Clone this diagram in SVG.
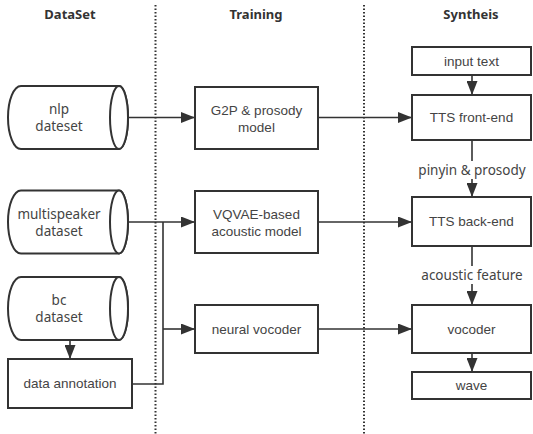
<svg xmlns="http://www.w3.org/2000/svg" width="533" height="434" viewBox="0 0 533 434">
  <style>
    .box { fill: #ffffff; stroke: #333333; stroke-width: 2; }
    .cyl { fill: #ffffff; stroke: #333333; stroke-width: 2; }
    .lane { stroke: #333333; stroke-width: 2; stroke-dasharray: 1.5 2; fill: none; }
    .edge { stroke: #333333; stroke-width: 1.6; fill: none; }
    .hdr { font-family: "Noto Sans", "Open Sans", sans-serif; font-size: 13px; font-weight: bold; fill: #333333; text-anchor: middle; }
    .lbl { font-family: "Liberation Sans", Arial, sans-serif; font-size: 13.5px; fill: #444444; text-anchor: middle; }
    .clbl { font-family: "Noto Sans", "Open Sans", sans-serif; font-size: 13.5px; fill: #444444; text-anchor: middle; }
    .elbl { font-family: "Noto Sans", "Open Sans", sans-serif; font-size: 13.5px; fill: #444444; text-anchor: middle; }
  </style>
  <defs>
    <marker id="arrow" viewBox="0 0 14 11" refX="14" refY="5.5" markerWidth="14" markerHeight="11" markerUnits="userSpaceOnUse" orient="auto">
      <path d="M0,0 L14,5.5 L0,11 Z" fill="#333333"/>
    </marker>
  </defs>

  <rect width="533" height="434" fill="#ffffff"/>

  <!-- lane headers and separators -->
  <g id="lanes">
    <text class="hdr" x="70" y="19">DataSet</text>
    <text class="hdr" x="256" y="19">Training</text>
    <text class="hdr" x="471" y="19">Syntheis</text>
    <line class="lane" x1="155.5" y1="5" x2="155.5" y2="434"/>
    <line class="lane" x1="364" y1="5" x2="364" y2="434"/>
  </g>

  <!-- connectors -->
  <g id="connectors">
    <line class="edge" x1="128" y1="117.5" x2="195" y2="117.5" marker-end="url(#arrow)"/>
    <line class="edge" x1="318" y1="117.5" x2="412" y2="117.5" marker-end="url(#arrow)"/>
    <line class="edge" x1="472" y1="75" x2="472" y2="95" marker-end="url(#arrow)"/>
    <line class="edge" x1="472" y1="140" x2="472" y2="197" marker-end="url(#arrow)"/>
    <line class="edge" x1="128" y1="222" x2="195" y2="222" marker-end="url(#arrow)"/>
    <line class="edge" x1="318" y1="222" x2="412" y2="222" marker-end="url(#arrow)"/>
    <line class="edge" x1="472" y1="246" x2="472" y2="305" marker-end="url(#arrow)"/>
    <path class="edge" d="M132,384 H163 V222"/>
    <line class="edge" x1="163" y1="329" x2="195" y2="329" marker-end="url(#arrow)"/>
    <line class="edge" x1="318" y1="329" x2="412" y2="329" marker-end="url(#arrow)"/>
    <line class="edge" x1="472" y1="353" x2="472" y2="372" marker-end="url(#arrow)"/>
    <line class="edge" x1="70" y1="340" x2="70" y2="359" marker-end="url(#arrow)"/>
    <!-- edge labels -->
    <rect x="416" y="161" width="114" height="18" fill="#ffffff"/>
    <text class="elbl" x="472" y="175">pinyin &amp; prosody</text>
    <rect x="420" y="266" width="104" height="18" fill="#ffffff"/>
    <text class="elbl" x="472" y="280">acoustic feature</text>
  </g>

  <!-- data sets -->
  <g id="nlp-dataset">
    <path class="cyl" d="M21,86 H119 A9,31.5 0 0 1 119,149 H21 A13,31.5 0 0 1 21,86 Z"/>
    <ellipse class="cyl" cx="119" cy="117.5" rx="9" ry="31.5"/>
    <text class="clbl" x="59" y="114">nlp</text>
    <text class="clbl" x="59" y="131">dateset</text>
  </g>
  <g id="multispeaker-dataset">
    <path class="cyl" d="M21,190.5 H119 A9,31.5 0 0 1 119,253.5 H21 A13,31.5 0 0 1 21,190.5 Z"/>
    <ellipse class="cyl" cx="119" cy="222" rx="9" ry="31.5"/>
    <text class="clbl" x="59" y="218.5">multispeaker</text>
    <text class="clbl" x="59" y="235.5">dataset</text>
  </g>
  <g id="bc-dataset">
    <path class="cyl" d="M21,277 H119 A9,31.5 0 0 1 119,340 H21 A13,31.5 0 0 1 21,277 Z"/>
    <ellipse class="cyl" cx="119" cy="308.5" rx="9" ry="31.5"/>
    <text class="clbl" x="59" y="305">bc</text>
    <text class="clbl" x="59" y="322">dataset</text>
  </g>
  <g id="data-annotation">
    <rect class="box" x="8" y="359" width="124" height="49"/>
    <text class="lbl" x="70" y="388">data annotation</text>
  </g>

  <!-- training -->
  <g id="g2p-model">
    <rect class="box" x="195" y="87" width="123" height="62"/>
    <text class="lbl" x="256.5" y="115">G2P &amp; prosody</text>
    <text class="lbl" x="256.5" y="132">model</text>
  </g>
  <g id="vqvae-model">
    <rect class="box" x="195" y="191" width="123" height="62"/>
    <text class="lbl" x="256.5" y="218.5">VQVAE-based</text>
    <text class="lbl" x="256.5" y="235.5">acoustic model</text>
  </g>
  <g id="neural-vocoder">
    <rect class="box" x="195" y="305" width="123" height="48"/>
    <text class="lbl" x="256.5" y="333.5">neural vocoder</text>
  </g>

  <!-- synthesis -->
  <g id="input-text">
    <rect class="box" x="412" y="47" width="119" height="28"/>
    <text class="lbl" x="471.5" y="65.5">input text</text>
  </g>
  <g id="tts-front-end">
    <rect class="box" x="412" y="95" width="119" height="45"/>
    <text class="lbl" x="471.5" y="122">TTS front-end</text>
  </g>
  <g id="tts-back-end">
    <rect class="box" x="412" y="197" width="119" height="49"/>
    <text class="lbl" x="471.5" y="226">TTS back-end</text>
  </g>
  <g id="vocoder">
    <rect class="box" x="412" y="305" width="119" height="48"/>
    <text class="lbl" x="471.5" y="333.5">vocoder</text>
  </g>
  <g id="wave">
    <rect class="box" x="412" y="372" width="119" height="27"/>
    <text class="lbl" x="471.5" y="390">wave</text>
  </g>
</svg>
